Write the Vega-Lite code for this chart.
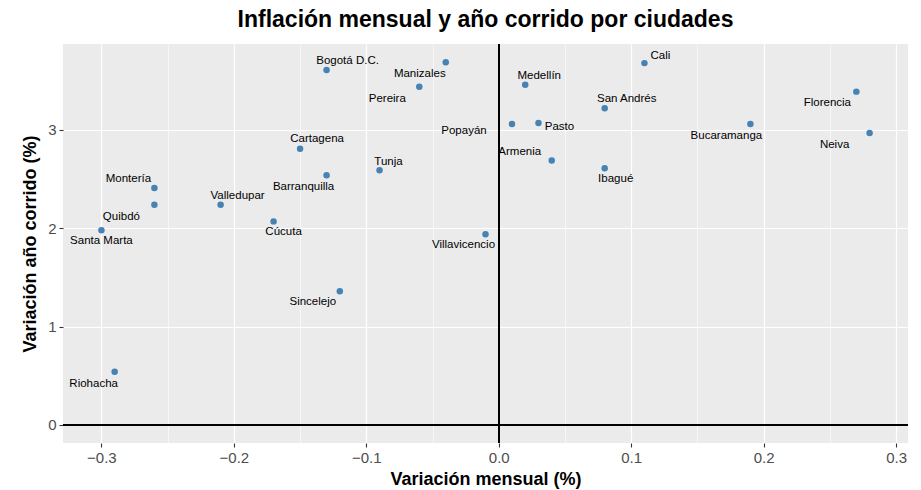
{
  "$schema": "https://vega.github.io/schema/vega-lite/v6.json",
  "width": 845,
  "height": 399,
  "autosize": "none",
  "padding": {"left": 63, "top": 44, "right": 13, "bottom": 47},
  "background": "white",
  "title": {
    "text": "Inflación mensual y año corrido por ciudades",
    "font": "Liberation Sans",
    "fontSize": 23,
    "fontWeight": "bold",
    "color": "black",
    "anchor": "middle",
    "offset": 11
  },
  "config": {
    "view": {"fill": "#EBEBEB", "stroke": null},
    "axis": {
      "domain": false,
      "grid": true,
      "gridColor": "white",
      "tickColor": "#333333",
      "tickSize": 4,
      "tickWidth": 1.1,
      "labelColor": "#4D4D4D",
      "labelFont": "Liberation Sans",
      "labelFontSize": 15,
      "labelOverlap": false,
      "labelFlush": false,
      "titleFont": "Liberation Sans",
      "titleFontSize": 18,
      "titleFontWeight": "bold",
      "titleColor": "black"
    },
    "text": {"font": "Liberation Sans", "fontSize": 11.5, "color": "black", "align": "center", "baseline": "middle"}
  },
  "data": {
    "values": [
      {"city": "Santa Marta", "mensual": -0.30, "anual": 1.98},
      {"city": "Montería", "mensual": -0.26, "anual": 2.41},
      {"city": "Quibdó", "mensual": -0.26, "anual": 2.24},
      {"city": "Valledupar", "mensual": -0.21, "anual": 2.24},
      {"city": "Cúcuta", "mensual": -0.17, "anual": 2.07},
      {"city": "Cartagena", "mensual": -0.15, "anual": 2.81},
      {"city": "Bogotá D.C.", "mensual": -0.13, "anual": 3.61},
      {"city": "Barranquilla", "mensual": -0.13, "anual": 2.54},
      {"city": "Manizales", "mensual": -0.04, "anual": 3.69},
      {"city": "Pereira", "mensual": -0.06, "anual": 3.44},
      {"city": "Medellín", "mensual": 0.02, "anual": 3.46},
      {"city": "Popayán", "mensual": 0.01, "anual": 3.06},
      {"city": "Pasto", "mensual": 0.03, "anual": 3.07},
      {"city": "Armenia", "mensual": 0.04, "anual": 2.69},
      {"city": "Tunja", "mensual": -0.09, "anual": 2.59},
      {"city": "Villavicencio", "mensual": -0.01, "anual": 1.94},
      {"city": "Cali", "mensual": 0.11, "anual": 3.68},
      {"city": "San Andrés", "mensual": 0.08, "anual": 3.22},
      {"city": "Ibagué", "mensual": 0.08, "anual": 2.61},
      {"city": "Bucaramanga", "mensual": 0.19, "anual": 3.06},
      {"city": "Florencia", "mensual": 0.27, "anual": 3.39},
      {"city": "Neiva", "mensual": 0.28, "anual": 2.97},
      {"city": "Sincelejo", "mensual": -0.12, "anual": 1.36},
      {"city": "Riohacha", "mensual": -0.29, "anual": 0.54}
    ]
  },
  "encoding": {
    "x": {
      "field": "mensual",
      "type": "quantitative",
      "title": "Variación mensual (%)",
      "scale": {"domain": [-0.329, 0.309], "nice": false, "zero": false},
      "axis": {
        "values": [-0.3, -0.25, -0.2, -0.15, -0.1, -0.05, 0, 0.05, 0.1, 0.15, 0.2, 0.25, 0.3],
        "format": ".1f",
        "labelExpr": "abs(datum.value*10 - round(datum.value*10)) > 0.01 ? '' : datum.label",
        "gridWidth": {"condition": {"test": "abs(datum.value*10 - round(datum.value*10)) > 0.01", "value": 0.6}, "value": 1.2},
        "tickOpacity": {"condition": {"test": "abs(datum.value*10 - round(datum.value*10)) > 0.01", "value": 0}, "value": 1},
        "labelPadding": 3,
        "titlePadding": 5
      }
    },
    "y": {
      "field": "anual",
      "type": "quantitative",
      "title": "Variación año corrido (%)",
      "scale": {"domain": [-0.1845, 3.8745], "nice": false, "zero": false},
      "axis": {
        "values": [0, 0.5, 1, 1.5, 2, 2.5, 3, 3.5],
        "format": "d",
        "labelExpr": "abs(datum.value - round(datum.value)) > 0.01 ? '' : datum.label",
        "gridWidth": {"condition": {"test": "abs(datum.value - round(datum.value)) > 0.01", "value": 0.6}, "value": 1.2},
        "tickOpacity": {"condition": {"test": "abs(datum.value - round(datum.value)) > 0.01", "value": 0}, "value": 1},
        "labelPadding": 3,
        "titlePadding": 8
      }
    }
  },
  "layer": [
    {"mark": {"type": "rule", "color": "black", "strokeWidth": 1.3}, "encoding": {"x": {"datum": 0}, "y": null}},
    {"mark": {"type": "rule", "color": "black", "strokeWidth": 1.3}, "encoding": {"y": {"datum": 0}, "x": null}},
    {"mark": {"type": "point", "filled": true, "size": 42, "color": "#4682B4", "opacity": 1}},
    {
      "encoding": {"text": {"field": "city"}},
      "layer": [
        {"transform": [{"filter": "datum.city === 'Santa Marta'"}], "mark": {"type": "text", "dx": 0, "dy": 11}},
        {"transform": [{"filter": "datum.city === 'Quibdó'"}], "mark": {"type": "text", "dx": -33, "dy": 12}},
        {"transform": [{"filter": "datum.city === 'Montería'"}], "mark": {"type": "text", "dx": -26, "dy": -9}},
        {"transform": [{"filter": "datum.city === 'Valledupar'"}], "mark": {"type": "text", "dx": 17, "dy": -9}},
        {"transform": [{"filter": "datum.city === 'Cúcuta'"}], "mark": {"type": "text", "dx": 10, "dy": 11}},
        {"transform": [{"filter": "datum.city === 'Cartagena'"}], "mark": {"type": "text", "dx": 17, "dy": -10}},
        {"transform": [{"filter": "datum.city === 'Barranquilla'"}], "mark": {"type": "text", "dx": -23, "dy": 12}},
        {"transform": [{"filter": "datum.city === 'Bogotá D.C.'"}], "mark": {"type": "text", "dx": 21, "dy": -9}},
        {"transform": [{"filter": "datum.city === 'Manizales'"}], "mark": {"type": "text", "dx": -26, "dy": 12}},
        {"transform": [{"filter": "datum.city === 'Pereira'"}], "mark": {"type": "text", "dx": -32, "dy": 12}},
        {"transform": [{"filter": "datum.city === 'Popayán'"}], "mark": {"type": "text", "dx": -48, "dy": 7}},
        {"transform": [{"filter": "datum.city === 'Pasto'"}], "mark": {"type": "text", "dx": 21, "dy": 4}},
        {"transform": [{"filter": "datum.city === 'Armenia'"}], "mark": {"type": "text", "dx": -32, "dy": -8}},
        {"transform": [{"filter": "datum.city === 'Medellín'"}], "mark": {"type": "text", "dx": 14, "dy": -9}},
        {"transform": [{"filter": "datum.city === 'Tunja'"}], "mark": {"type": "text", "dx": 9, "dy": -8}},
        {"transform": [{"filter": "datum.city === 'Villavicencio'"}], "mark": {"type": "text", "dx": -22, "dy": 11}},
        {"transform": [{"filter": "datum.city === 'Cali'"}], "mark": {"type": "text", "dx": 16, "dy": -7}},
        {"transform": [{"filter": "datum.city === 'San Andrés'"}], "mark": {"type": "text", "dx": 22, "dy": -9}},
        {"transform": [{"filter": "datum.city === 'Ibagué'"}], "mark": {"type": "text", "dx": 11, "dy": 11}},
        {"transform": [{"filter": "datum.city === 'Bucaramanga'"}], "mark": {"type": "text", "dx": -24, "dy": 12}},
        {"transform": [{"filter": "datum.city === 'Florencia'"}], "mark": {"type": "text", "dx": -29, "dy": 11}},
        {"transform": [{"filter": "datum.city === 'Neiva'"}], "mark": {"type": "text", "dx": -35, "dy": 12}},
        {"transform": [{"filter": "datum.city === 'Sincelejo'"}], "mark": {"type": "text", "dx": -27, "dy": 11}},
        {"transform": [{"filter": "datum.city === 'Riohacha'"}], "mark": {"type": "text", "dx": -21, "dy": 12}}
      ]
    }
  ]
}
